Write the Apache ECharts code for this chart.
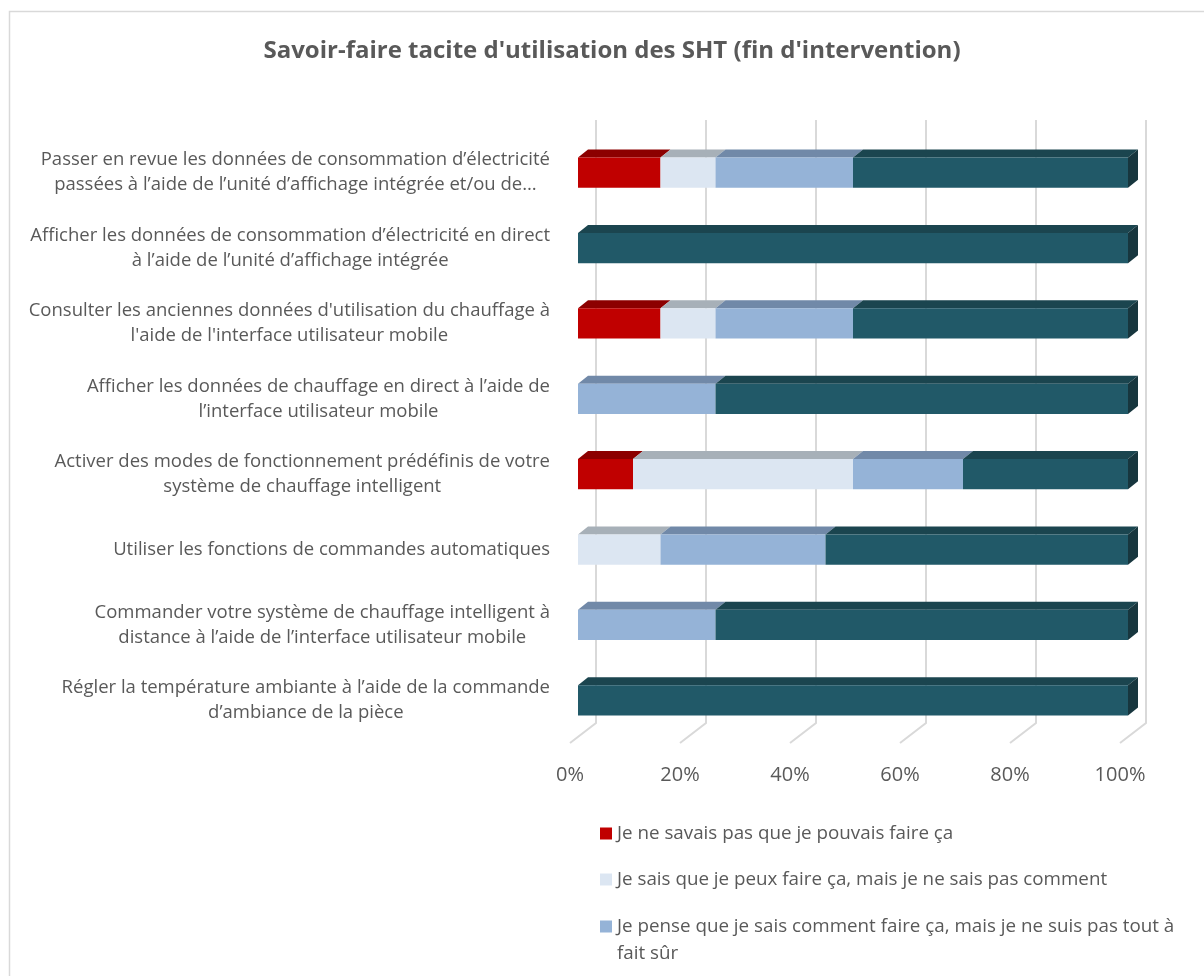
<!DOCTYPE html>
<html>
<head>
<meta charset="utf-8">
<script src="https://cdn.jsdelivr.net/npm/echarts@6/dist/echarts.min.js"></script>
<style>
  html, body { margin: 0; padding: 0; background: #fff; }
  #sht-bar { width: 1204px; height: 976px; }
</style>
</head>
<body>
<div id="sht-bar"></div>
<script>
// categories, top to bottom (line breaks as in the original labels)
const categories = [
  'Passer en revue les données de consommation d’électricité\npassées à l’aide de l’unité d’affichage intégrée et/ou de…',
  'Afficher les données de consommation d’électricité en direct\nà l’aide de l’unité d’affichage intégrée',
  "Consulter les anciennes données d'utilisation du chauffage à\nl'aide de l'interface utilisateur mobile",
  'Afficher les données de chauffage en direct à l’aide de\nl’interface utilisateur mobile',
  'Activer des modes de fonctionnement prédéfinis de votre\nsystème de chauffage intelligent',
  'Utiliser les fonctions de commandes automatiques',
  'Commander votre système de chauffage intelligent à\ndistance à l’aide de l’interface utilisateur mobile',
  'Régler la température ambiante à l’aide de la commande\nd’ambiance de la pièce'
]

// shares in %, same order as categories
const nePouvaisPas = [15, 0, 15, 0, 10, 0, 0, 0]
const pasComment = [10, 0, 10, 0, 40, 15, 0, 0]
const pasToutSur = [25, 0, 25, 25, 20, 30, 25, 0]
const saisFaire = [50, 100, 50, 75, 30, 55, 75, 100]

const xTicks = [0, 20, 40, 60, 80, 100]

const seriesDefs = [
  { name: 'Je ne savais pas que je pouvais faire ça', values: nePouvaisPas, front: '#C00000', top: '#8C0000', side: '#7A0000' },
  { name: 'Je sais que je peux faire ça, mais je ne sais pas comment', values: pasComment, front: '#DCE6F2', top: '#A7B0B8', side: '#9AA3AB' },
  { name: 'Je pense que je sais comment faire ça, mais je ne suis pas tout à fait sûr', values: pasToutSur, front: '#95B3D7', top: '#7189A8', side: '#667C99' },
  { name: 'Je sais comment faire ça', values: saisFaire, front: '#215968', top: '#1B454F', side: '#17363E' }
]

const DX = 10
const DY = 8

// running totals so each segment starts where the previous ended
const cum = categories.map(() => 0)
const barSeries = seriesDefs.map((s, si) => {
  const data = s.values.map((v, i) => {
    const start = cum[i]
    cum[i] += v
    return [start, cum[i], i]
  })
  return {
    name: s.name,
    type: 'custom',
    z: 3 + si,
    itemStyle: { color: s.front },
    encode: { x: [0, 1], y: 2 },
    data: data,
    renderItem: (params, api) => {
      const p0 = api.coord([api.value(0), api.value(2)])
      const p1 = api.coord([api.value(1), api.value(2)])
      const w = p1[0] - p0[0]
      if (w <= 0) return
      const h = api.size([0, 1])[1] * 0.4
      const y = p0[1] - h / 2
      const children = [
        {
          type: 'polygon',
          shape: { points: [[p0[0], y], [p1[0], y], [p1[0] + DX, y - DY], [p0[0] + DX, y - DY]] },
          style: { fill: s.top }
        },
        {
          type: 'rect',
          shape: { x: p0[0], y: y, width: w, height: h },
          style: { fill: s.front }
        }
      ]
      if (api.value(1) >= 100) {
        children.push({
          type: 'polygon',
          shape: { points: [[p1[0], y], [p1[0] + DX, y - DY], [p1[0] + DX, y + h - DY], [p1[0], y + h]] },
          style: { fill: s.side }
        })
      }
      return { type: 'group', children: children }
    }
  }
})

// back wall gridlines + floor diagonals
const gridSeries = {
  type: 'custom',
  silent: true,
  z: 1,
  data: xTicks.map(t => [t, 0]),
  encode: { x: 0, y: 1 },
  renderItem: (params, api) => {
    const cs = params.coordSys
    const x = api.coord([api.value(0), 0])[0]
    const bottom = cs.y + cs.height
    return {
      type: 'polyline',
      shape: { points: [[x + 18, cs.y - 15], [x + 18, bottom - 15], [x - 8, bottom + 5]] },
      style: { stroke: '#D9D9D9', lineWidth: 2, fill: null }
    }
  }
}

const legendText = {
  fontFamily: 'Open Sans',
  fontSize: 18.8,
  color: '#595959',
  lineHeight: 27,
  width: 590,
  overflow: 'break'
}
const legendBase = {
  orient: 'vertical',
  left: 595,
  height: 300,
  icon: 'rect',
  itemWidth: 12,
  itemHeight: 12,
  itemGap: 19,
  selectedMode: false,
  textStyle: legendText
}

const option = {
  animation: false,
  textStyle: { fontFamily: 'Open Sans' },
  graphic: [
    {
      type: 'rect',
      shape: { x: 9.5, y: 11.5, width: 1300, height: 1000 },
      style: { fill: null, stroke: '#D9D9D9', lineWidth: 1.5 },
      silent: true,
      z: -10
    }
  ],
  title: {
    text: "Savoir-faire tacite d'utilisation des SHT (fin d'intervention)",
    left: 607,
    top: 34,
    textAlign: 'center',
    textStyle: { fontFamily: 'Open Sans', fontWeight: 'bold', fontSize: 24, color: '#595959' }
  },
  legend: [
    Object.assign({}, legendBase, {
      data: [seriesDefs[0].name, seriesDefs[1].name],
      top: 815
    }),
    // wrapped item: blank first line keeps the icon level with the first text line
    Object.assign({}, legendBase, {
      data: [seriesDefs[2].name],
      top: 881,
      formatter: name => '\n' + name
    })
  ],
  grid: {
    left: 578,
    right: 76,
    top: 135,
    bottom: 238
  },
  xAxis: {
    type: 'value',
    min: 0,
    max: 100,
    interval: 20,
    axisLine: { show: false },
    axisTick: { show: false },
    splitLine: { show: false },
    axisLabel: {
      formatter: '{value}%',
      margin: 27,
      padding: [0, 16, 0, 0],
      fontFamily: 'Open Sans',
      fontSize: 20,
      color: '#595959'
    }
  },
  yAxis: {
    type: 'category',
    data: categories,
    inverse: true,
    axisLine: { show: false },
    axisTick: { show: false },
    splitLine: { show: false },
    axisLabel: {
      align: 'right',
      margin: 28,
      // block is right-aligned, each line centred inside it
      formatter: value => value.split('\n').map(l => '{c|' + l + '}').join('\n'),
      rich: {
        c: {
          align: 'center',
          fontFamily: 'Open Sans',
          fontSize: 18.5,
          lineHeight: 25,
          color: '#595959'
        }
      }
    }
  },
  series: [gridSeries].concat(barSeries)
}

const chart = echarts.init(document.getElementById('sht-bar'))
chart.setOption(option)
</script>
</body>
</html>
